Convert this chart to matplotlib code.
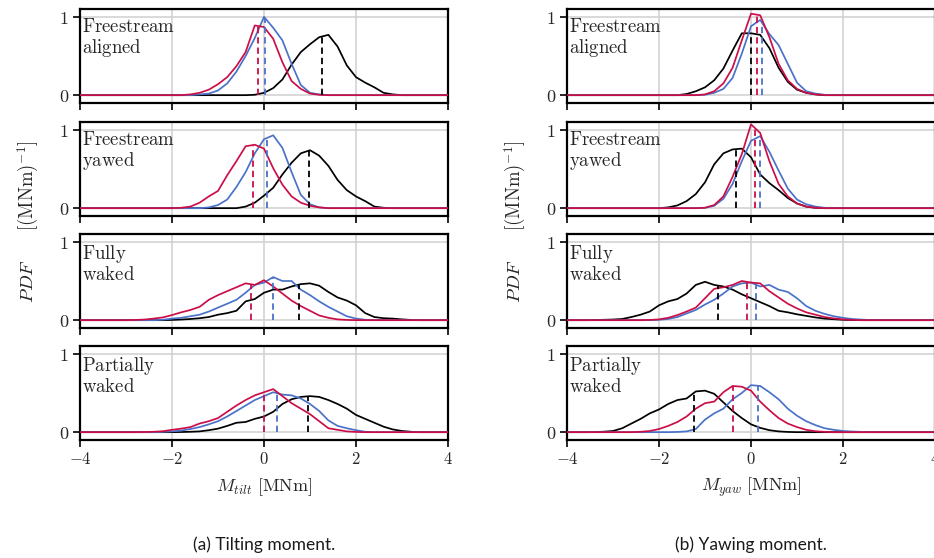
import matplotlib
matplotlib.use("Agg")
import matplotlib.pyplot as plt
import numpy as np

plt.rcParams['mathtext.fontset'] = 'cm'
plt.rcParams['font.family'] = ['DejaVu Serif']

# ---------------- data ----------------
X = [-4.0, -3.8, -3.6, -3.4, -3.2, -3.0, -2.8, -2.6, -2.4, -2.2, -2.0,
     -1.8, -1.6, -1.4, -1.2, -1.0, -0.8, -0.6, -0.4, -0.2, 0.0,
     0.2, 0.4, 0.6, 0.8, 1.0, 1.2, 1.4, 1.6, 1.8, 2.0,
     2.2, 2.4, 2.6, 2.8, 3.0, 3.2, 3.4, 3.6, 3.8, 4.0]

CASES = ["Freestream\naligned", "Freestream\nyawed", "Fully\nwaked", "Partially\nwaked"]
SERIES = ["black", "blue", "red"]

# Tilting moment PDFs
tilt_aligned_black = [0, 0, 0, 0, 0, 0, 0, 0, 0, 0, 0, 0, 0, 0, 0, 0, 0, 0, 0,
                      0.005, 0.03, 0.09, 0.2, 0.39, 0.55, 0.65, 0.74, 0.77, 0.62, 0.38, 0.23, 0.16, 0.1, 0.03, 0.01,
                      0, 0, 0, 0, 0, 0]
tilt_aligned_blue = [0, 0, 0, 0, 0, 0, 0, 0, 0, 0, 0, 0, 0,
                     0.01, 0.02, 0.06, 0.15, 0.3, 0.5, 0.73, 1.0, 0.86, 0.7, 0.4, 0.13, 0.03, 0.01,
                     0, 0, 0, 0, 0, 0, 0, 0, 0, 0, 0, 0, 0, 0]
tilt_aligned_red = [0, 0, 0, 0, 0, 0, 0, 0, 0, 0, 0, 0,
                    0.01, 0.03, 0.07, 0.14, 0.23, 0.37, 0.55, 0.89, 0.87, 0.72, 0.42, 0.18, 0.08, 0.02, 0.005,
                    0, 0, 0, 0, 0, 0, 0, 0, 0, 0, 0, 0, 0, 0]

tilt_yawed_black = [0, 0, 0, 0, 0, 0, 0, 0, 0, 0, 0, 0, 0, 0, 0, 0, 0, 0,
                    0.02, 0.07, 0.16, 0.26, 0.43, 0.58, 0.7, 0.74, 0.67, 0.54, 0.36, 0.23, 0.15, 0.09, 0.02, 0.005,
                    0, 0, 0, 0, 0, 0, 0]
tilt_yawed_blue = [0, 0, 0, 0, 0, 0, 0, 0, 0, 0, 0, 0, 0, 0,
                   0.01, 0.04, 0.11, 0.27, 0.46, 0.7, 0.88, 0.93, 0.77, 0.46, 0.17, 0.05, 0.01,
                   0, 0, 0, 0, 0, 0, 0, 0, 0, 0, 0, 0, 0, 0]
tilt_yawed_red = [0, 0, 0, 0, 0, 0, 0, 0, 0, 0, 0,
                  0.005, 0.02, 0.07, 0.15, 0.22, 0.42, 0.6, 0.79, 0.81, 0.76, 0.51, 0.3, 0.15, 0.07, 0.03, 0.01,
                  0, 0, 0, 0, 0, 0, 0, 0, 0, 0, 0, 0, 0, 0]

tilt_fully_black = [0, 0, 0, 0, 0, 0, 0, 0, 0, 0,
                    0.003, 0.008, 0.015, 0.025, 0.04, 0.07, 0.09, 0.12, 0.24, 0.27, 0.35, 0.39, 0.39, 0.43,
                    0.46, 0.47, 0.44, 0.36, 0.29, 0.25, 0.19, 0.09, 0.04, 0.025, 0.02, 0.01, 0.003,
                    0, 0, 0, 0]
tilt_fully_blue = [0, 0, 0, 0, 0, 0, 0, 0, 0,
                   0.005, 0.02, 0.03, 0.05, 0.07, 0.11, 0.16, 0.21, 0.26, 0.35, 0.45, 0.48, 0.55, 0.5, 0.5,
                   0.39, 0.32, 0.24, 0.17, 0.11, 0.05, 0.02, 0.005,
                   0, 0, 0, 0, 0, 0, 0, 0, 0]
tilt_fully_red = [0, 0, 0, 0, 0, 0,
                  0.003, 0.008, 0.02, 0.035, 0.065, 0.1, 0.13, 0.17, 0.26, 0.32, 0.37, 0.42, 0.47, 0.45,
                  0.51, 0.43, 0.34, 0.25, 0.18, 0.12, 0.06, 0.03, 0.01, 0.003,
                  0, 0, 0, 0, 0, 0, 0, 0, 0, 0, 0]

tilt_partial_black = [0, 0, 0, 0, 0, 0, 0, 0, 0, 0, 0,
                      0.002, 0.005, 0.01, 0.025, 0.045, 0.08, 0.12, 0.13, 0.17, 0.2, 0.26, 0.36, 0.42, 0.45,
                      0.46, 0.45, 0.41, 0.36, 0.3, 0.22, 0.17, 0.12, 0.07, 0.035, 0.015, 0.005,
                      0, 0, 0, 0]
tilt_partial_blue = [0, 0, 0, 0, 0, 0, 0, 0, 0,
                     0.003, 0.01, 0.02, 0.04, 0.065, 0.1, 0.14, 0.2, 0.27, 0.34, 0.41, 0.46, 0.51, 0.48,
                     0.47, 0.43, 0.36, 0.27, 0.15, 0.08, 0.05, 0.025, 0.005,
                     0, 0, 0, 0, 0, 0, 0, 0, 0]
tilt_partial_red = [0, 0, 0, 0, 0, 0, 0,
                    0.002, 0.005, 0.012, 0.03, 0.045, 0.065, 0.11, 0.14, 0.18, 0.26, 0.34, 0.41, 0.47,
                    0.51, 0.55, 0.46, 0.37, 0.3, 0.23, 0.14, 0.05, 0.03, 0.01, 0.003,
                    0, 0, 0, 0, 0, 0, 0, 0, 0, 0]

# Yawing moment PDFs
yaw_aligned_black = [0, 0, 0, 0, 0, 0, 0, 0, 0, 0, 0, 0, 0,
                     0.015, 0.05, 0.1, 0.19, 0.34, 0.57, 0.79, 0.79, 0.77, 0.6, 0.35, 0.17, 0.07, 0.03, 0.01,
                     0, 0, 0, 0, 0, 0, 0, 0, 0, 0, 0, 0, 0]
yaw_aligned_blue = [0, 0, 0, 0, 0, 0, 0, 0, 0, 0, 0, 0, 0, 0, 0,
                    0.005, 0.03, 0.08, 0.22, 0.53, 0.88, 0.96, 0.78, 0.64, 0.4, 0.16, 0.05, 0.02, 0.005,
                    0, 0, 0, 0, 0, 0, 0, 0, 0, 0, 0, 0]
yaw_aligned_red = [0, 0, 0, 0, 0, 0, 0, 0, 0, 0, 0, 0, 0, 0, 0,
                   0.01, 0.05, 0.15, 0.35, 0.7, 1.04, 1.02, 0.74, 0.4, 0.19, 0.08, 0.03, 0.01,
                   0, 0, 0, 0, 0, 0, 0, 0, 0, 0, 0, 0, 0]

yaw_yawed_black = [0, 0, 0, 0, 0, 0, 0, 0, 0, 0, 0,
                   0.01, 0.035, 0.09, 0.18, 0.33, 0.56, 0.7, 0.75, 0.76, 0.65, 0.43, 0.32, 0.23, 0.13,
                   0.06, 0.02, 0.005,
                   0, 0, 0, 0, 0, 0, 0, 0, 0, 0, 0, 0, 0]
yaw_yawed_blue = [0, 0, 0, 0, 0, 0, 0, 0, 0, 0, 0, 0, 0, 0, 0,
                  0.005, 0.03, 0.12, 0.31, 0.6, 0.86, 0.92, 0.72, 0.48, 0.25, 0.11, 0.05, 0.02, 0.005,
                  0, 0, 0, 0, 0, 0, 0, 0, 0, 0, 0, 0]
yaw_yawed_red = [0, 0, 0, 0, 0, 0, 0, 0, 0, 0, 0, 0, 0, 0, 0,
                 0.005, 0.04, 0.15, 0.4, 0.69, 1.07, 0.96, 0.6, 0.31, 0.15, 0.06, 0.02, 0.005,
                 0, 0, 0, 0, 0, 0, 0, 0, 0, 0, 0, 0, 0]

yaw_fully_black = [0, 0, 0,
                   0.002, 0.005, 0.008, 0.015, 0.04, 0.07, 0.11, 0.19, 0.24, 0.27, 0.34, 0.45, 0.49,
                   0.45, 0.43, 0.39, 0.33, 0.28, 0.23, 0.18, 0.12, 0.1, 0.075, 0.055, 0.035, 0.02,
                   0.012, 0.005, 0.002,
                   0, 0, 0, 0, 0, 0, 0, 0, 0]
yaw_fully_blue = [0, 0, 0, 0, 0, 0, 0, 0, 0, 0,
                  0.005, 0.015, 0.04, 0.085, 0.13, 0.2, 0.26, 0.34, 0.43, 0.47, 0.48, 0.43, 0.45, 0.39,
                  0.36, 0.28, 0.18, 0.12, 0.08, 0.05, 0.03, 0.015, 0.007, 0.002,
                  0, 0, 0, 0, 0, 0, 0]
yaw_fully_red = [0, 0, 0, 0, 0, 0, 0, 0, 0,
                 0.003, 0.01, 0.03, 0.065, 0.11, 0.16, 0.28, 0.4, 0.42, 0.45, 0.5, 0.48, 0.47, 0.37,
                 0.29, 0.21, 0.15, 0.1, 0.07, 0.04, 0.022, 0.01, 0.003,
                 0, 0, 0, 0, 0, 0, 0, 0, 0]

yaw_partial_black = [0, 0, 0,
                     0.002, 0.006, 0.015, 0.05, 0.11, 0.17, 0.24, 0.29, 0.36, 0.41, 0.43, 0.52, 0.53,
                     0.49, 0.38, 0.27, 0.18, 0.1, 0.055, 0.025, 0.01, 0.003,
                     0, 0, 0, 0, 0, 0, 0, 0, 0, 0, 0, 0, 0, 0, 0, 0]
yaw_partial_blue = [0, 0, 0, 0, 0, 0, 0, 0, 0, 0, 0, 0,
                    0.003, 0.01, 0.04, 0.16, 0.24, 0.3, 0.42, 0.5, 0.6, 0.59, 0.51, 0.42, 0.3, 0.21,
                    0.14, 0.09, 0.05, 0.03, 0.015, 0.008, 0.004,
                    0, 0, 0, 0, 0, 0, 0, 0]
yaw_partial_red = [0, 0, 0, 0, 0, 0, 0, 0,
                   0.005, 0.015, 0.04, 0.08, 0.13, 0.2, 0.3, 0.37, 0.39, 0.51, 0.59, 0.58, 0.53, 0.39,
                   0.28, 0.18, 0.11, 0.065, 0.03, 0.012, 0.004,
                   0, 0, 0, 0, 0, 0, 0, 0, 0, 0, 0, 0]

# mean values (dashed lines), order: black, blue, red
tilt_means = [[1.27, 0.02, -0.12],
              [0.97, 0.07, -0.25],
              [0.75, 0.20, -0.28],
              [0.96, 0.28, 0.00]]
yaw_means = [[-0.01, 0.23, 0.12],
             [-0.32, 0.19, 0.09],
             [-0.72, 0.10, -0.09],
             [-1.24, 0.16, -0.39]]

tilt_data = [[tilt_aligned_black, tilt_aligned_blue, tilt_aligned_red],
             [tilt_yawed_black, tilt_yawed_blue, tilt_yawed_red],
             [tilt_fully_black, tilt_fully_blue, tilt_fully_red],
             [tilt_partial_black, tilt_partial_blue, tilt_partial_red]]
yaw_data = [[yaw_aligned_black, yaw_aligned_blue, yaw_aligned_red],
            [yaw_yawed_black, yaw_yawed_blue, yaw_yawed_red],
            [yaw_fully_black, yaw_fully_blue, yaw_fully_red],
            [yaw_partial_black, yaw_partial_blue, yaw_partial_red]]

XTICKS = [-4, -2, 0, 2, 4]
XTICK_LABELS = [r'$-4$', r'$-2$', r'$0$', r'$2$', r'$4$']
YTICKS = [0, 1]
YTICK_LABELS = [r'$0$', r'$1$']

COLORS = {"black": "#000000", "blue": "#4a72c8", "red": "#cc0e47"}
TXT = "#262626"

# ---------------- figure ----------------
fig = plt.figure(figsize=(9.34, 5.58), dpi=100)

col_left = [80 / 934, 567 / 934]
col_w = 368 / 934
row_bottom = [1 - 103 / 558, 1 - 216 / 558, 1 - 328 / 558, 1 - 440 / 558]
row_h = 94 / 558


def draw_column(ci, data, means, xlabel, caption):
    for ri in range(4):
        ax = fig.add_axes([col_left[ci], row_bottom[ri], col_w, row_h])
        ax.set_xlim(-4, 4)
        ax.set_ylim(-0.1, 1.1)
        ax.grid(True, color="#d0d0d0", lw=1.1)
        ax.set_axisbelow(True)
        for si, name in enumerate(SERIES):
            y = np.asarray(data[ri][si], dtype=float)
            assert len(y) == len(X)
            ax.plot(X, y, color=COLORS[name], lw=1.25, zorder=3 + si)
        for si, name in enumerate(SERIES):
            m = means[ri][si]
            h = np.interp(m, X, data[ri][si])
            ax.plot([m, m], [0, h], color=COLORS[name], lw=1.3,
                    ls=(0, (3.5, 2.2)), zorder=6 + si)
        ax.set_xticks(XTICKS)
        ax.set_yticks(YTICKS)
        ax.set_yticklabels(YTICK_LABELS, fontsize=13, color=TXT)
        if ri == 3:
            ax.set_xticklabels(XTICK_LABELS, fontsize=12, color=TXT)
        else:
            ax.set_xticklabels([])
        ax.tick_params(axis='both', direction='out', length=5, width=1.2, color='black', pad=3)
        for sp in ax.spines.values():
            sp.set_linewidth(1.6)
            sp.set_color('black')
        lines = CASES[ri].split("\n")
        label = "\n".join(r"$\mathrm{" + l + "}$" for l in lines)
        ax.text(0.005, 0.9, label, transform=ax.transAxes, ha='left', va='top',
                fontsize=13.5, color=TXT, linespacing=1.05, zorder=10)
    cx = col_left[ci] + col_w / 2
    fig.text(cx, 1 - 487 / 558, xlabel, ha='center', va='center', fontsize=13, color=TXT)
    fig.text(cx, 1 - 545 / 558, caption, ha='center', va='center', fontsize=12.5,
             color='#1a1a1a', family='Lato')
    fig.text(col_left[ci] - 52 / 934, 1 - 222 / 558,
             r'$PDF\quad\quad[(\mathrm{MNm})^{-1}]$', rotation=90,
             ha='center', va='center', fontsize=13.5, color=TXT)


draw_column(0, tilt_data, tilt_means, r'$M_{tilt}\ [\mathrm{MNm}]$', '(a) Tilting moment.')
draw_column(1, yaw_data, yaw_means, r'$M_{yaw}\ [\mathrm{MNm}]$', '(b) Yawing moment.')

fig.savefig("out.png", dpi=100)
